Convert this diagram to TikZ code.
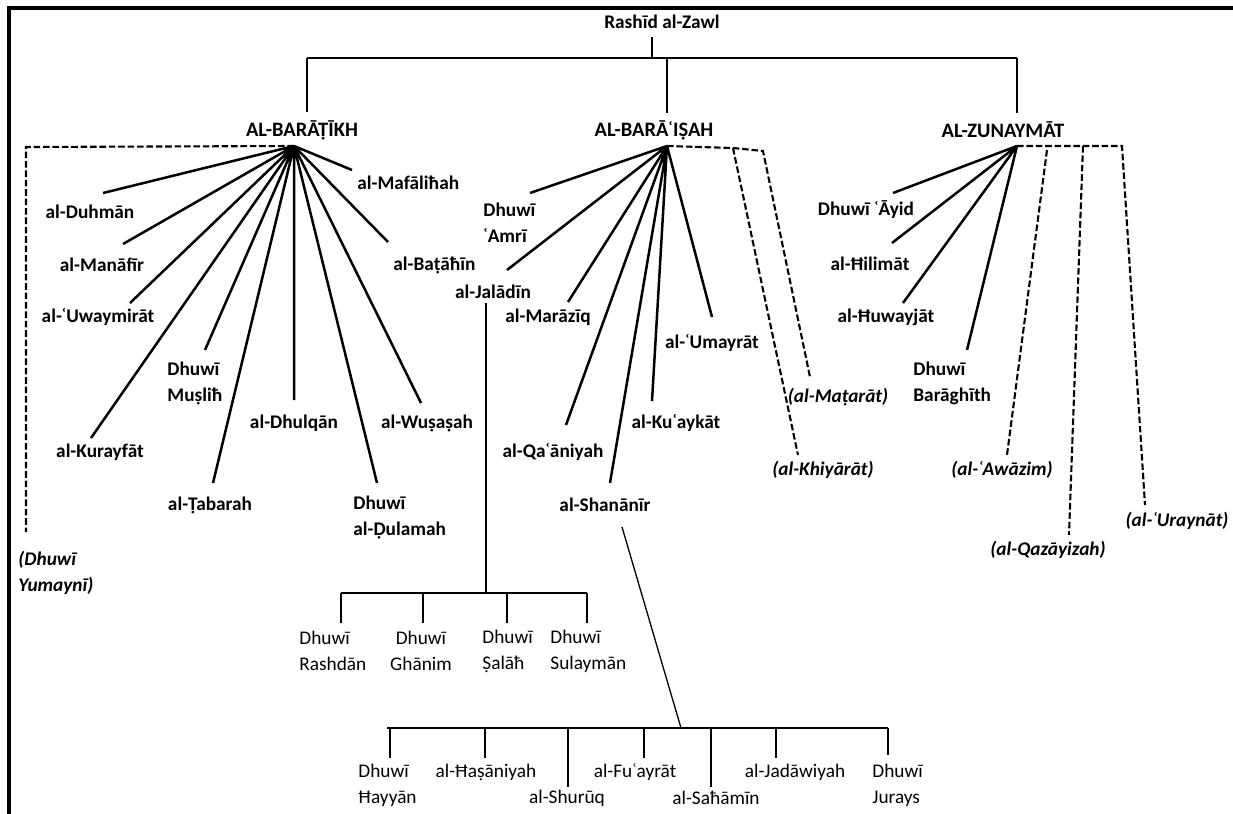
\documentclass[tikz,border=0pt]{standalone}
\usepackage{fontspec}
\setmainfont{Carlito}
\tikzset{
 lbl/.style={font=\fontsize{9.65}{13}\selectfont\bfseries,inner sep=0pt,align=left},
 top/.style={font=\fontsize{10.25}{13}\selectfont\bfseries,inner sep=0pt},
 sub/.style={font=\fontsize{9.65}{13}\selectfont,inner sep=0pt,align=left},
 ext/.style={font=\fontsize{9.65}{13}\selectfont\bfseries\itshape,inner sep=0pt,align=left},
 br/.style={line width=1.25pt},
 dbr/.style={line width=1.05pt,dash pattern=on 3.3pt off 1.4pt},
 thn/.style={line width=0.65pt}
}
\begin{document}
\begin{tikzpicture}[x=0.5pt,y=-0.5pt]
\useasboundingbox (0,0) rectangle (1233,814);
\draw[line width=1.75pt] (9,814) -- (9,8) -- (1233,8);
% root and the three sections
\node[lbl] (rashid) at (662,22) {Rashīd al-Zawl};
\node[top] (baratikh) at (302,130) {AL-BARĀṬĪKH};
\node[top] (baraisah) at (654,130) {AL-BARĀʿIṢAH};
\node[top] (zunaymat) at (1003,130) {AL-ZUNAYMĀT};
\coordinate (r1) at (652,37); \coordinate (r2) at (652,58);
\coordinate (bA) at (307,58); \coordinate (bB) at (667,58); \coordinate (bC) at (1017,58);
\coordinate (tA) at (307,112); \coordinate (tB) at (667,113); \coordinate (tC) at (1017,113);
\draw[line width=1pt] (r1) -- (r2);
\draw[line width=1pt] (bA) -- (bC);
\draw[line width=1pt] (bA) -- (tA) (bB) -- (tB) (bC) -- (tC);
\coordinate (hA) at (294,146); \coordinate (hB) at (667,146); \coordinate (hC) at (1017,146);
% al-Barātikh
\node[lbl] (duhman) at (90,212) {al-Duhmān};
\node[lbl] (manafir) at (102,265) {al-Manāfīr};
\node[lbl] (uwaymirat) at (98,317) {al-ʿUwaymirāt};
\node[lbl,anchor=west] (muslih) at (167,383) {Dhuwī\\Muṣliħ};
\node[lbl] (kurayfat) at (100,452) {al-Kurayfāt};
\node[lbl] (tabarah) at (210,505) {al-Ṭabarah};
\node[lbl] (dhulqan) at (294,423) {al-Dhulqān};
\node[lbl,anchor=west] (dulamah) at (353,518) {Dhuwī\\al-Ḍulamah};
\node[lbl] (wusasah) at (427,423) {al-Wuṣaṣah};
\node[lbl,anchor=west] (batahin) at (393,265) {al-Baṭāħīn};
\node[lbl,anchor=west] (mafalihah) at (357,183) {al-Mafāliħah};
\node[ext,anchor=west] (yumayni) at (18,573) {(Dhuwī\\Yumaynī)};
\coordinate (duhman-e) at (103,193); \coordinate (manafir-e) at (123,244);
\coordinate (uwaymirat-e) at (130,303); \coordinate (muslih-e) at (205,350);
\coordinate (kurayfat-e) at (91,438); \coordinate (tabarah-e) at (213,483);
\coordinate (dhulqan-e) at (294,400); \coordinate (dulamah-e) at (377,483);
\coordinate (wusasah-e) at (421,403); \coordinate (batahin-e) at (388,242);
\coordinate (mafalihah-e) at (352,170);
\coordinate (yumayni-c) at (26,147); \coordinate (yumayni-e) at (26,532);
\draw[br] (hA) -- (duhman-e) (hA) -- (manafir-e) (hA) -- (uwaymirat-e)
 (hA) -- (muslih-e) (hA) -- (kurayfat-e) (hA) -- (tabarah-e)
 (hA) -- (dhulqan-e) (hA) -- (dulamah-e) (hA) -- (wusasah-e)
 (hA) -- (batahin-e) (hA) -- (mafalihah-e);
\draw[dbr] (hA) -- (yumayni-c) -- (yumayni-e);
% al-Barāisah
\node[lbl,anchor=west] (amri) at (483,223) {Dhuwī\\ʿAmrī};
\node[lbl] (jaladin) at (493,292) {al-Jalādīn};
\node[lbl] (maraziq) at (548,317) {al-Marāzīq};
\node[lbl] (umayrat) at (712,343) {al-ʿUmayrāt};
\node[lbl] (qaaniyah) at (553,452) {al-Qaʿāniyah};
\node[lbl] (kuaykat) at (676,423) {al-Kuʿaykāt};
\node[lbl] (shananir) at (605,505) {al-Shanānīr};
\node[ext] (khiyarat) at (823,470) {(al-Khiyārāt)};
\node[ext] (matarat) at (838,397) {(al-Maṭarāt)};
\coordinate (amri-e) at (530,193); \coordinate (jaladin-e) at (507,270);
\coordinate (maraziq-e) at (568,302); \coordinate (umayrat-e) at (712,317);
\coordinate (qaaniyah-e) at (566,425); \coordinate (kuaykat-e) at (652,401);
\coordinate (shananir-e) at (610,483);
\coordinate (khiyarat-c) at (733,148); \coordinate (khiyarat-e) at (798,455);
\coordinate (matarat-c) at (763,151); \coordinate (matarat-e) at (810,377);
\draw[br] (hB) -- (amri-e) (hB) -- (jaladin-e) (hB) -- (maraziq-e)
 (hB) -- (umayrat-e) (hB) -- (qaaniyah-e) (hB) -- (kuaykat-e)
 (hB) -- (shananir-e);
\draw[dbr] (hB) -- (khiyarat-c) -- (matarat-c) -- (matarat-e);
\draw[dbr] (khiyarat-c) -- (khiyarat-e);
% al-Zunaymāt
\node[lbl] (ayid) at (866,210) {Dhuwī ʿĀyid};
\node[lbl] (hilimat) at (870,264) {al-Ħilimāt};
\node[lbl] (huwayjat) at (886,317) {al-Ħuwayjāt};
\node[lbl,anchor=west] (baraghith) at (913,383) {Dhuwī\\Barāghīth};
\node[ext] (awazim) at (1002,470) {(al-ʿAwāzim)};
\node[ext] (qazayizah) at (1048,550) {(al-Qazāyizah)};
\node[ext] (uraynat) at (1177,521) {(al-ʿUraynāt)};
\coordinate (ayid-e) at (893,193); \coordinate (hilimat-e) at (892,243);
\coordinate (huwayjat-e) at (903,303); \coordinate (baraghith-e) at (967,350);
\coordinate (awazim-c) at (1047,150); \coordinate (awazim-e) at (1007,455);
\coordinate (qazayizah-c) at (1083,146); \coordinate (qazayizah-e) at (1069,535);
\coordinate (uraynat-c) at (1122,146); \coordinate (uraynat-e) at (1145,505);
\draw[br] (hC) -- (ayid-e) (hC) -- (hilimat-e) (hC) -- (huwayjat-e) (hC) -- (baraghith-e);
\draw[dbr] (hC) -- (uraynat-c) -- (uraynat-e);
\draw[dbr] (awazim-c) -- (awazim-e) (qazayizah-c) -- (qazayizah-e);
% under al-Jalādīn
\node[sub,anchor=west] (rashdan) at (299,651) {Dhuwī\\Rashdān};
\node[sub,align=center] (ghanim) at (421,651) {Dhuwī\\Ghānim};
\node[sub,anchor=west] (salah) at (482,651) {Dhuwī\\Ṣalāħ};
\node[sub,anchor=west] (sulayman) at (550,651) {Dhuwī\\Sulaymān};
\coordinate (j1) at (486,303); \coordinate (j2) at (486,593);
\coordinate (rashdan-t) at (341,593); \coordinate (ghanim-t) at (423,593);
\coordinate (salah-t) at (507,593); \coordinate (sulayman-t) at (587,593);
\draw[thn] (j1) -- (j2);
\draw[thn] (rashdan-t) -- (sulayman-t);
\draw[thn] (rashdan-t) -- ++(0,30) (ghanim-t) -- ++(0,30) (salah-t) -- ++(0,30) (sulayman-t) -- ++(0,30);
% under al-Shanānīr
\node[sub,anchor=west] (hayyan) at (358,785) {Dhuwī\\Ħayyān};
\node[sub] (hasaniyah) at (486,772) {al-Ħaṣāniyah};
\node[sub] (shuruq) at (567,798) {al-Shurūq};
\node[sub] (fuayrat) at (635,772) {al-Fuʿayrāt};
\node[sub] (sahamin) at (716,798) {al-Saħāmīn};
\node[sub] (jadawiyah) at (795,772) {al-Jadāwiyah};
\node[sub,anchor=west] (jurays) at (872,785) {Dhuwī\\Jurays};
\coordinate (s1) at (622,527); \coordinate (s2) at (681,728);
\coordinate (hayyan-t) at (390,728); \coordinate (hasaniyah-t) at (485,728);
\coordinate (shuruq-t) at (568,728); \coordinate (fuayrat-t) at (644,728);
\coordinate (sahamin-t) at (711,728); \coordinate (jadawiyah-t) at (776,728);
\coordinate (jurays-t) at (888,728); \coordinate (s0) at (387,728);
\draw[thn] (s1) -- (s2);
\draw[line width=0.9pt] (s0) -- (jurays-t);
\draw[thn] (hayyan-t) -- ++(0,30) (hasaniyah-t) -- ++(0,30) (shuruq-t) -- ++(0,59)
 (fuayrat-t) -- ++(0,30) (sahamin-t) -- ++(0,59) (jadawiyah-t) -- ++(0,30) (jurays-t) -- ++(0,27);
\end{tikzpicture}
\end{document}
